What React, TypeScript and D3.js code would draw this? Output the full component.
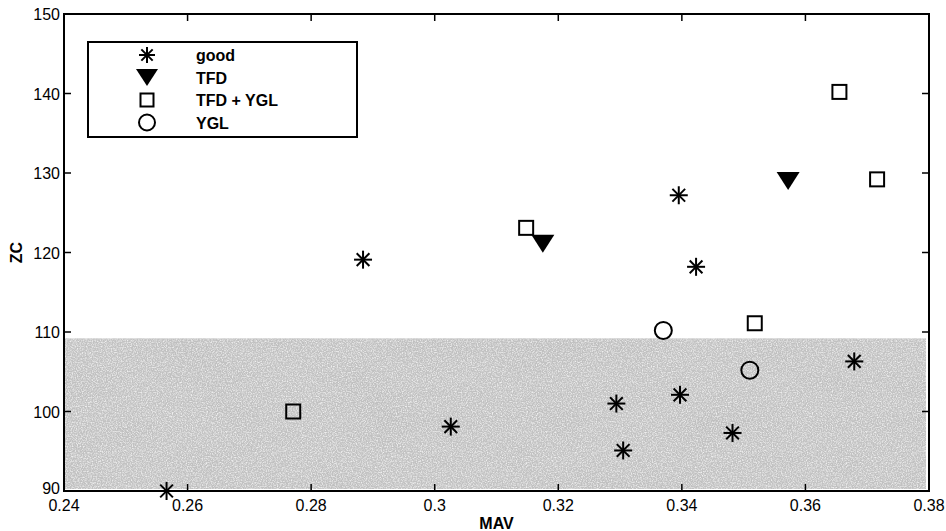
import React from 'react';
import * as d3 from 'd3';

// chart size
const svgWidth = 946;
const svgHeight = 531;
const margin = { left: 64, right: 15, top: 14, bottom: 40 };

// data (MAV, ZC)
const goodMav = [0.2566, 0.2884, 0.3026, 0.3294, 0.3305, 0.3395, 0.3397, 0.3423, 0.3482, 0.3679];
const goodZc = [90, 119.1, 98.1, 101.0, 95.1, 127.2, 102.1, 118.2, 97.3, 106.3];
const tfdMav = [0.3175, 0.3572];
const tfdZc = [121.1, 129.0];
const bothMav = [0.2771, 0.3148, 0.3518, 0.3655, 0.3716];
const bothZc = [100, 123.1, 111.1, 140.2, 129.2];
const yglMav = [0.3370, 0.3510];
const yglZc = [110.2, 105.2];

const xTicks = [0.24, 0.26, 0.28, 0.3, 0.32, 0.34, 0.36, 0.38];
const yTicks = [90, 100, 110, 120, 130, 140, 150];
const bandTop = 109.2; // shaded "normal" region upper edge
const legendLabels = ['good', 'TFD', 'TFD + YGL', 'YGL'];

const font = 'Liberation Sans, Arial, Helvetica, sans-serif';

const xScale = d3.scaleLinear().domain([0.24, 0.38]).range([margin.left, svgWidth - margin.right - 2]);
const yScale = d3.scaleLinear().domain([90, 150]).range([svgHeight - margin.bottom, margin.top]);

// marker drawers
const Star = ({ x, y, r = 9 }: { x: number; y: number; r?: number }) => {
  const arms = [0, 45, 90, 135].map((a) => {
    const rad = (a * Math.PI) / 180;
    const dx = Math.sin(rad) * r;
    const dy = Math.cos(rad) * r;
    return <line key={a} x1={x - dx} y1={y - dy} x2={x + dx} y2={y + dy} stroke="#000" strokeWidth={2} />;
  });
  return <g>{arms}</g>;
};

const Tri = ({ x, y, w = 23, h = 18 }: { x: number; y: number; w?: number; h?: number }) => (
  <path d={`M${x - w / 2},${y - h / 2}L${x + w / 2},${y - h / 2}L${x},${y + h / 2}Z`} fill="#000" />
);

const Sq = ({ x, y, s = 14 }: { x: number; y: number; s?: number }) => (
  <rect x={x - s / 2} y={y - s / 2} width={s} height={s} fill="none" stroke="#000" strokeWidth={2} />
);

const Circ = ({ x, y, r = 8.5 }: { x: number; y: number; r?: number }) => (
  <circle cx={x} cy={y} r={r} fill="none" stroke="#000" strokeWidth={2} />
);

export default function App() {
  const x0 = xScale.range()[0];
  const x1 = xScale.range()[1];
  const y0 = yScale.range()[0];
  const y1 = yScale.range()[1];

  const legendX = 88;
  const legendY = 42;
  const rowH = 22.5;

  return (
    <svg width={svgWidth} height={svgHeight} style={{ position: 'absolute', left: 0, top: 0, background: '#fff' }}>
      <defs>
        <filter id="grain" x="0" y="0" width="100%" height="100%">
          <feTurbulence type="fractalNoise" baseFrequency="0.8" numOctaves={2} seed={3} result="n" />
          <feColorMatrix type="matrix" values="0 0 0 0 1  0 0 0 0 1  0 0 0 0 1  0 0 0 -2.2 1.35" in="n" result="a" />
          <feComposite in="a" in2="SourceGraphic" operator="in" />
        </filter>
        <filter id="blotch" x="0" y="0" width="100%" height="100%">
          <feTurbulence type="fractalNoise" baseFrequency="0.012 0.03" numOctaves={2} seed={7} result="n" />
          <feColorMatrix type="matrix" values="0 0 0 0 0.45  0 0 0 0 0.45  0 0 0 0 0.45  0 0 0 -1.6 0.9" in="n" result="a" />
          <feComposite in="a" in2="SourceGraphic" operator="in" />
        </filter>
      </defs>

      {/* shaded region */}
      <g>
        <rect x={x0 + 1} y={yScale(bandTop)} width={x1 - x0 - 4} height={y0 - yScale(bandTop) - 2} fill="#c2c2c2" />
        <rect x={x0 + 1} y={yScale(bandTop)} width={x1 - x0 - 4} height={y0 - yScale(bandTop) - 2} fill="#000" filter="url(#blotch)" opacity={0.35} />
        <rect x={x0 + 1} y={yScale(bandTop)} width={x1 - x0 - 4} height={y0 - yScale(bandTop) - 2} fill="#000" filter="url(#grain)" opacity={0.75} />
      </g>

      {/* frame */}
      <rect x={x0} y={y1} width={x1 - x0} height={y0 - y1} fill="none" stroke="#000" strokeWidth={2} />

      {/* x ticks */}
      {xTicks.map((t) => (
        <g key={t}>
          <line x1={xScale(t)} x2={xScale(t)} y1={y0} y2={y0 - 7} stroke="#000" strokeWidth={1.5} />
          <line x1={xScale(t)} x2={xScale(t)} y1={y1} y2={y1 + 7} stroke="#000" strokeWidth={1.5} />
          <text x={xScale(t)} y={y0 + 20} textAnchor="middle" fontFamily={font} fontSize={16}>
            {String(t)}
          </text>
        </g>
      ))}

      {/* y ticks */}
      {yTicks.map((t) => (
        <g key={t}>
          <line x1={x0} x2={x0 + 7} y1={yScale(t)} y2={yScale(t)} stroke="#000" strokeWidth={1.5} />
          <line x1={x1} x2={x1 - 7} y1={yScale(t)} y2={yScale(t)} stroke="#000" strokeWidth={1.5} />
          <text x={x0 - 4} y={yScale(t) + (t === 90 ? 3 : 6)} textAnchor="end" fontFamily={font} fontSize={16}>
            {t}
          </text>
        </g>
      ))}

      {/* axis titles */}
      <text x={(x0 + x1) / 2} y={529} textAnchor="middle" fontFamily={font} fontWeight="bold" fontSize={16}>
        MAV
      </text>
      <text transform={`translate(22,${(y0 + y1) / 2}) rotate(-90)`} textAnchor="middle" fontFamily={font} fontWeight="bold" fontSize={16}>
        ZC
      </text>

      {/* points */}
      {goodMav.map((v, i) => (
        <Star key={'g' + i} x={xScale(v)} y={yScale(goodZc[i])} />
      ))}
      {tfdMav.map((v, i) => (
        <Tri key={'t' + i} x={xScale(v)} y={yScale(tfdZc[i])} />
      ))}
      {bothMav.map((v, i) => (
        <Sq key={'b' + i} x={xScale(v)} y={yScale(bothZc[i])} />
      ))}
      {yglMav.map((v, i) => (
        <Circ key={'y' + i} x={xScale(v)} y={yScale(yglZc[i])} />
      ))}

      {/* legend */}
      <rect x={legendX} y={legendY} width={269} height={95} fill="#fff" stroke="#000" strokeWidth={2} />
      {legendLabels.map((lab, i) => {
        const cy = legendY + 13 + i * rowH;
        const mx = 147;
        return (
          <g key={lab}>
            {i === 0 && <Star x={mx} y={cy} r={8} />}
            {i === 1 && <Tri x={mx} y={cy} w={22} h={17} />}
            {i === 2 && <Sq x={mx} y={cy} s={13} />}
            {i === 3 && <Circ x={mx} y={cy} r={8} />}
            <text x={196} y={cy + 6} fontFamily={font} fontWeight="bold" fontSize={16}>
              {lab}
            </text>
          </g>
        );
      })}
    </svg>
  );
}
